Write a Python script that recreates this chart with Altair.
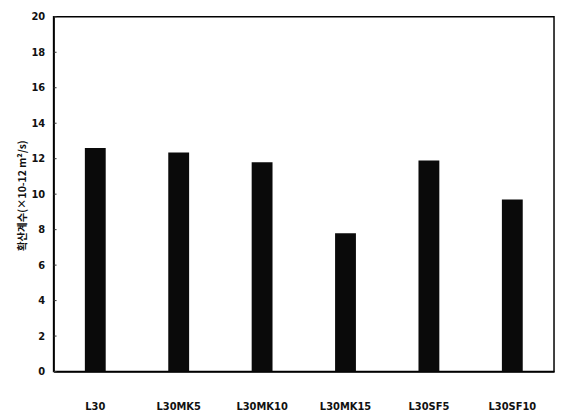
import altair as alt
import pandas as pd

categories = ["L30", "L30MK5", "L30MK10", "L30MK15", "L30SF5", "L30SF10"]
values = [12.6, 12.35, 11.8, 7.8, 11.9, 9.7]
y_ticks = [0, 2, 4, 6, 8, 10, 12, 14, 16, 18, 20]

df = pd.DataFrame({"sample": categories, "value": values})
tick_df = pd.DataFrame({"t": y_ticks})

y_scale = alt.Scale(domain=[0, 20], nice=False)
x_scale = alt.Scale(paddingInner=0.75, paddingOuter=0.375)
y_title = "확산계수(×10-12 m²/s)"
y_axis = alt.Axis(values=y_ticks, ticks=False, grid=False,
                  labelPadding=9, labelFont="DejaVu Sans",
                  labelFontWeight="bold", labelFontSize=10,
                  labelOverlap=False,
                  labelColor="#111", domainColor="#000",
                  domainWidth=1.5, titleFont="Noto Sans CJK KR",
                  titleFontWeight="bold", titleFontSize=10.5,
                  titleColor="#111", titlePadding=3,
                  titleY=180, titleAnchor="middle")

bars = alt.Chart(df).mark_bar(color="#0a0a0a").encode(
    x=alt.X("sample:N", sort=categories, scale=x_scale, title=None,
            axis=alt.Axis(labelAngle=0, labelPadding=30, ticks=False,
                          labelFont="DejaVu Sans", labelFontWeight="bold",
                          labelFontSize=10, labelColor="#111",
                          domainColor="#000", domainWidth=1.5)),
    y=alt.Y("value:Q", scale=y_scale, title=y_title, axis=y_axis),
)

ticks = alt.Chart(tick_df).mark_rule(color="#333", strokeWidth=1).encode(
    y=alt.Y("t:Q", scale=y_scale, title=y_title, axis=y_axis),
    x=alt.value(0),
    x2=alt.value(3),
)

chart = alt.layer(bars, ticks).properties(
    width=505, height=358,
    autosize=alt.AutoSizeParams(type="none"),
    padding={"left": 46, "top": 7, "right": 2, "bottom": 45},
).configure_view(stroke="#000", strokeWidth=1.5).configure_axis(grid=False)

chart.save("out.html", embed_options={"renderer": "svg", "actions": False})
